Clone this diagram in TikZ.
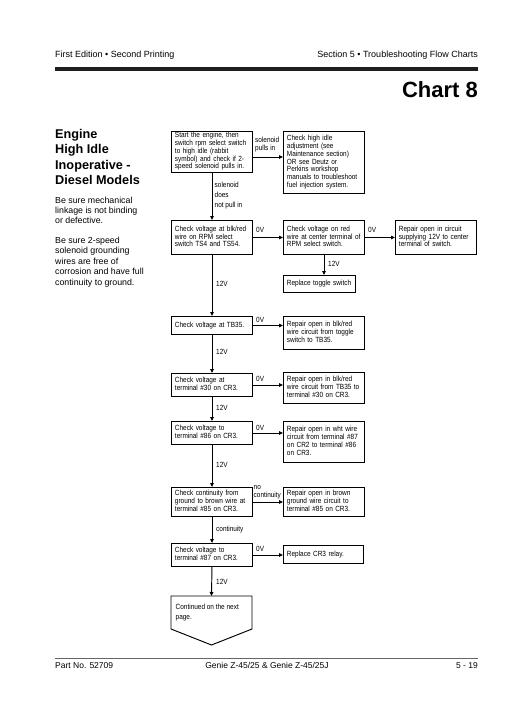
\documentclass[tikz,border=0pt]{standalone}
\usepackage{fontspec}
\setmainfont{Liberation Sans}
\newfontfamily\boxfont[FakeStretch=0.86]{Liberation Sans}
\usetikzlibrary{arrows.meta}
\newcommand\boxlines[1]{\begin{tabular}{@{}l@{}}#1\end{tabular}}
\begin{document}
\begin{tikzpicture}[x=1pt,y=-1pt,
  box/.style={draw, line width=0.95pt, anchor=north west, inner xsep=3.5pt, inner ysep=1pt, text width=74pt, align=left, font=\boxfont\fontsize{7.5}{7.7}\selectfont},
  lbl/.style={inner sep=0pt, align=left, font=\boxfont\fontsize{7.5}{8}\selectfont},
  arr/.style={line width=0.95pt, -{Triangle[length=4pt,width=3.6pt]}},
  hdr/.style={inner sep=0pt, font=\fontsize{9}{10}\selectfont},
  ftr/.style={inner sep=0pt, font=\fontsize{8.5}{10}\selectfont},
  ttl/.style={inner sep=0pt, anchor=base west, font=\bfseries\fontsize{12.7}{15}\selectfont},
  body/.style={inner sep=0pt, anchor=base west, font=\fontsize{8.8}{10}\selectfont}]
\fill[white] (0,0) rectangle (530,712);
\useasboundingbox (0,0) rectangle (530,712);
% header
\node[hdr, anchor=base west] (h1) at (55,57.5) {First Edition • Second Printing};
\node[hdr, anchor=base east] (h2) at (478,57.5) {Section 5 • Troubleshooting Flow Charts};
\fill[black!88] (55,66.5) rectangle (478,70.5);
\node[inner sep=0pt, anchor=base east, font=\bfseries\fontsize{22}{24}\selectfont] (chart) at (478,97) {Chart 8};
% left title
\node[ttl] (t1) at (55,138) {Engine};
\node[ttl] (t2) at (55,153.5) {High Idle};
\node[ttl] (t3) at (55,169) {Inoperative -};
\node[ttl] (t4) at (55,184.5) {Diesel Models};
\node[body] (p1) at (55,203) {Be sure mechanical};
\node[body] (p2) at (55,213) {linkage is not binding};
\node[body] (p3) at (55,223) {or defective.};
\node[body] (p4) at (55,243) {Be sure 2-speed};
\node[body] (p5) at (55,253.5) {solenoid grounding};
\node[body] (p6) at (55,264) {wires are free of};
\node[body] (p7) at (55,274.5) {corrosion and have full};
\node[body] (p8) at (55,285) {continuity to ground.};
% boxes
\node[box, minimum height=38pt] (A) at (171,131) {\boxlines{Start the engine, then\\switch rpm select switch\\to high idle (rabbit\\symbol) and check if 2-\\speed solenoid pulls in.}};
\node[box, minimum height=62pt] (B) at (283,131) {\boxlines{Check high idle\\adjustment (see\\Maintenance section)\\OR see Deutz or\\Perkins workshop\\manuals to troubleshoot\\fuel injection system.}};
\node[box, minimum height=34pt] (C) at (171,220) {\boxlines{Check voltage at blk/red\\wire on RPM select\\switch TS4 and TS54.}};
\node[box, minimum height=34pt] (D) at (283,220) {\boxlines{Check voltage on red\\wire at center terminal of\\RPM select switch.}};
\node[box, minimum height=34pt] (E) at (395,220) {\boxlines{Repair open in circuit\\supplying 12V to center\\terminal of switch.}};
\node[box, minimum height=17pt, text width=65pt] (F) at (283,275) {\boxlines{Replace toggle switch}};
\node[box, minimum height=18pt] (G) at (171,316) {\boxlines{Check voltage at TB35.}};
\node[box, minimum height=33pt] (H) at (283,316) {\boxlines{Repair open in blk/red\\wire circuit from toggle\\switch to TB35.}};
\node[box, minimum height=23pt] (I) at (171,373) {\boxlines{Check voltage at\\terminal \#30 on CR3.}};
\node[box, minimum height=31pt] (J) at (283,372) {\boxlines{Repair open in blk/red\\wire circuit from TB35 to\\terminal \#30 on CR3.}};
\node[box, minimum height=23pt] (K) at (171,421) {\boxlines{Check voltage to\\terminal \#86 on CR3.}};
\node[box, minimum height=41pt] (L) at (283,421) {\boxlines{Repair open in wht wire\\circuit from terminal \#87\\on CR2 to terminal \#86\\on CR3.}};
\node[box, minimum height=29pt] (M) at (171,487) {\boxlines{Check continuity from\\ground to brown wire at\\terminal \#85 on CR3.}};
\node[box, minimum height=29pt] (N) at (283,487) {\boxlines{Repair open in brown\\ground wire circuit to\\terminal \#85 on CR3.}};
\node[box, minimum height=23pt] (O) at (171,543) {\boxlines{Check voltage to\\terminal \#87 on CR3.}};
\node[box, minimum height=18pt, text width=73pt] (P) at (283,545) {\boxlines{Replace CR3 relay.}};
% continuation shape
\draw[line width=0.95pt] (171,596) -- (252,596) -- (252,629) -- (211.5,645) -- (171,629) -- cycle;
\coordinate (Qtop) at (211.5,596);
\node[lbl, anchor=north west, font=\boxfont\fontsize{7.5}{9.5}\selectfont] (Q) at (175.5,604) {Continued on the next\\page.};
% connectors
\draw[arr] (A.east |- 0,157) -- (B.west |- 0,157);
\draw[arr] (A.south) -- (C.north);
\draw[arr] (C.east) -- (D.west);
\draw[arr] (D.east) -- (E.west);
\draw[arr] (D.south) -- (D.south |- F.north);
\draw[arr] (C.south) -- (G.north);
\draw[arr] (G.east) -- (G.east -| H.west);
\draw[arr] (G.south) -- (I.north);
\draw[arr] (I.east) -- (I.east -| J.west);
\draw[arr] (I.south) -- (K.north);
\draw[arr] (K.east) -- (K.east -| L.west);
\draw[arr] (K.south) -- (M.north);
\draw[arr] (M.east) -- (N.west);
\draw[arr] (M.south) -- (O.north);
\draw[arr] (O.east) -- (O.east -| P.west);
\draw[arr] (O.south) -- (Qtop);
% connector labels
\node[lbl, anchor=north west] (la) at (255,137) {solenoid\\pulls in};
\node[lbl, anchor=north west, font=\boxfont\fontsize{7.5}{9.8}\selectfont] (lb) at (214.5,182) {solenoid\\does\\not pull in};
\node[lbl, anchor=west] (lc) at (256,230) {0V};
\node[lbl, anchor=west] (ld) at (368,230) {0V};
\node[lbl, anchor=west] (le) at (328,264) {12V};
\node[lbl, anchor=west] (lf) at (216,284) {12V};
\node[lbl, anchor=west] (lg) at (256,320) {0V};
\node[lbl, anchor=west] (lh) at (216,352) {12V};
\node[lbl, anchor=west] (li) at (256,379) {0V};
\node[lbl, anchor=west] (lj) at (216,408) {12V};
\node[lbl, anchor=west] (lk) at (256,428) {0V};
\node[lbl, anchor=west] (ll) at (216,465) {12V};
\node[lbl, anchor=north west] (lm) at (253.5,485) {no\\continuity};
\node[lbl, anchor=west] (ln) at (216,530) {continuity};
\node[lbl, anchor=west] (lo) at (256,549) {0V};
\node[lbl, anchor=west] (lp) at (216,582) {12V};
% footer
\draw[black!60, line width=0.8pt] (55,658) -- (478,658);
\node[ftr, anchor=base west] (f1) at (55,668) {Part No. 52709};
\node[ftr, anchor=base] (f2) at (267,668) {Genie Z-45/25 \& Genie Z-45/25J};
\node[ftr, anchor=base east] (f3) at (478,668) {5 - 19};
\end{tikzpicture}
\end{document}
